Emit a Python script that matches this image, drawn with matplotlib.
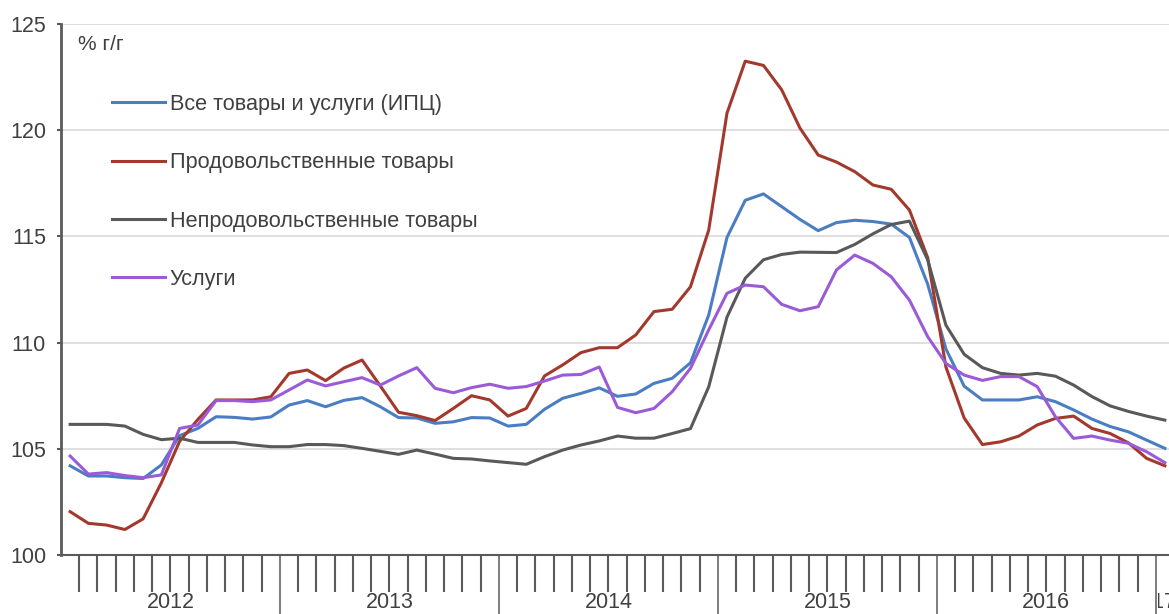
import matplotlib
matplotlib.use("Agg")
import matplotlib.pyplot as plt
from matplotlib.patches import Rectangle
import numpy as np

plt.rcParams['font.family'] = ['Liberation Sans', 'DejaVu Sans']

years = ["2012", "2013", "2014", "2015", "2016", "2017"]
series_names = ["Все товары и услуги (ИПЦ)", "Продовольственные товары",
                "Непродовольственные товары", "Услуги"]
unit_label = "% г/г"

# Monthly values, Jan 2012 .. Jan 2017 (61 points)
cpi = [104.2, 103.72, 103.72, 103.64, 103.6, 104.24, 105.62, 105.96, 106.51, 106.48, 106.4, 106.5,
       107.06, 107.27, 106.98, 107.28, 107.41, 106.98, 106.47, 106.45, 106.2, 106.27, 106.47, 106.45,
       106.07, 106.15, 106.86, 107.38, 107.61, 107.87, 107.47, 107.58, 108.08, 108.32, 109.05, 111.3,
       114.95, 116.7, 117.0, 116.4, 115.8, 115.27, 115.65, 115.76, 115.7, 115.58, 114.95, 112.75,
       109.7, 107.95, 107.3, 107.3, 107.3, 107.45, 107.22, 106.83, 106.4, 106.05, 105.8, 105.41,
       105.02]
food = [102.04, 101.49, 101.41, 101.2, 101.7, 103.4, 105.35, 106.38, 107.3, 107.3, 107.3, 107.45,
        108.55, 108.71, 108.21, 108.8, 109.18, 107.96, 106.72, 106.56, 106.33, 106.9, 107.5, 107.3,
        106.54, 106.9, 108.43, 108.95, 109.53, 109.76, 109.76, 110.36, 111.46, 111.57, 112.63, 115.3,
        120.8, 123.25, 123.05, 121.9, 120.1, 118.83, 118.5, 118.05, 117.42, 117.22, 116.24, 114.0,
        108.85, 106.45, 105.2, 105.33, 105.6, 106.12, 106.43, 106.54, 105.96, 105.72, 105.28, 104.55,
        104.2]
nonfood = [106.15, 106.15, 106.15, 106.07, 105.68, 105.43, 105.5, 105.3, 105.3, 105.3, 105.18, 105.1,
           105.1, 105.2, 105.2, 105.15, 105.02, 104.88, 104.74, 104.94, 104.75, 104.55, 104.52, 104.43,
           104.35, 104.27, 104.63, 104.94, 105.18, 105.37, 105.6, 105.5, 105.5, 105.72, 105.95, 107.92,
           111.2, 113.03, 113.9, 114.15, 114.26, 114.25, 114.24, 114.62, 115.12, 115.56, 115.72, 113.9,
           110.82, 109.45, 108.82, 108.55, 108.47, 108.55, 108.42, 108.0, 107.46, 107.02, 106.76, 106.54,
           106.35]
services = [104.66, 103.81, 103.88, 103.74, 103.64, 103.77, 105.96, 106.12, 107.27, 107.27, 107.22, 107.3,
            107.77, 108.24, 107.96, 108.16, 108.35, 108.0, 108.43, 108.82, 107.85, 107.64, 107.88, 108.04,
            107.85, 107.93, 108.19, 108.47, 108.5, 108.85, 106.95, 106.7, 106.9, 107.69, 108.79, 110.6,
            112.32, 112.71, 112.63, 111.8, 111.5, 111.69, 113.42, 114.12, 113.73, 113.1, 112.0, 110.28,
            109.02, 108.47, 108.22, 108.4, 108.4, 107.93, 106.51, 105.49, 105.6, 105.41, 105.26, 104.86,
            104.35]

colors = ["#4A7DC2", "#A3382C", "#595959", "#9B5BD7"]
W, H = 1169, 614
PT = 72 / 100  # points per pixel
fig = plt.figure(figsize=(W / 100, H / 100), dpi=100)
ax_left, ax_right, ax_top, ax_bot = 61, 1174, 24, 555
ax = fig.add_axes([ax_left / W, (H - ax_bot) / H, (ax_right - ax_left) / W, (ax_bot - ax_top) / H])

n = len(cpi)
x = np.arange(n)
for vals, c, name in zip([cpi, food, nonfood, services], colors, series_names):
    ax.plot(x, vals, color=c, lw=2.2, label=name, solid_joinstyle='round', zorder=3)

ax.set_xlim(-0.5, n - 0.5)
ax.set_ylim(100, 125)
ax.set_yticks([100, 105, 110, 115, 120, 125])
ax.yaxis.grid(True, color="#D9D9D9", lw=1.2)
ax.set_axisbelow(True)
for s in ["top", "right"]:
    ax.spines[s].set_visible(False)
ax.spines["left"].set_color("#5a5a5a")
ax.spines["left"].set_linewidth(2.0)
ax.spines["bottom"].set_color("#5a5a5a")
ax.spines["bottom"].set_linewidth(1.5)
ax.tick_params(axis="y", length=4 * PT, width=1.5, color="#5a5a5a", labelsize=15.5,
               labelcolor="#404040", pad=11 * PT)

# month boundaries
bounds = np.arange(n) + 0.5
minor = [b for i, b in enumerate(bounds) if (i + 1) % 12 != 0]
major = [b for i, b in enumerate(bounds) if (i + 1) % 12 == 0]
ax.set_xticks(major)
ax.set_xticks(minor, minor=True)
ax.set_xticklabels([])
ax.tick_params(axis="x", which="major", length=62 * PT, width=1.1, color="#5a5a5a")
ax.tick_params(axis="x", which="minor", length=37 * PT, width=1.5, color="#5a5a5a")

# year labels
label_y = -(602 - ax_bot) / (ax_bot - ax_top)
for k, yr in enumerate(years[:-1]):
    ax.text(12 * k + 5.5, label_y, yr, transform=ax.get_xaxis_transform(),
            ha="center", va="center", fontsize=15.5, color="#404040", clip_on=False)
# the last year label is truncated by its one-month group in the reference
t = ax.text(58.03, label_y, years[-1], transform=ax.get_xaxis_transform(),
            ha="left", va="center", fontsize=15.5, color="#404040")
clip = Rectangle((59.6, -1), 5, 1, transform=ax.get_xaxis_transform(), visible=False)
ax.add_patch(clip)
t.set_clip_path(clip)
t.set_clip_on(True)

fig.text(78 / W, 1 - 45 / H, unit_label, ha="left", va="center", fontsize=15, color="#404040")

leg = ax.legend(loc="upper left",
                bbox_to_anchor=((112 - ax_left) / (ax_right - ax_left), 1 - (94 - ax_top) / (ax_bot - ax_top)),
                frameon=False, fontsize=15.6, handlelength=2.44, handletextpad=0.23,
                labelspacing=1.72, borderaxespad=0, borderpad=0)
for txt in leg.get_texts():
    txt.set_color("#404040")

fig.savefig("out.png", dpi=100)
